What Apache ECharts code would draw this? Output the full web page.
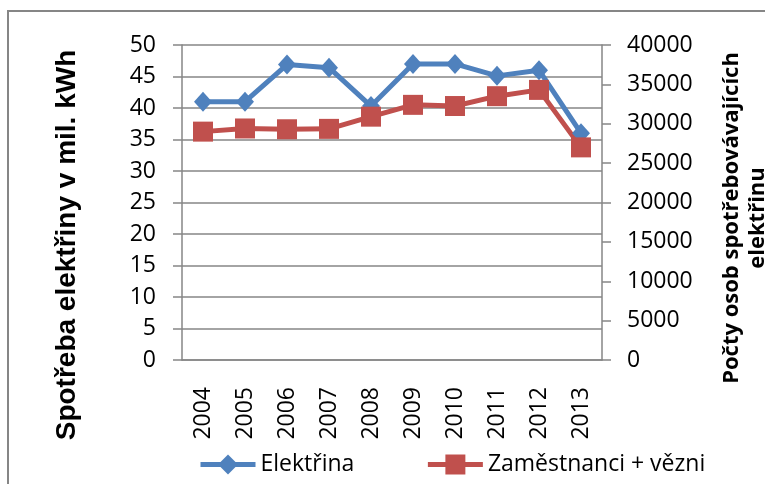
<!DOCTYPE html>
<html>
<head>
<meta charset="utf-8">
<script src="https://cdn.jsdelivr.net/npm/echarts@6/dist/echarts.min.js"></script>
<style>
html, body { margin: 0; padding: 0; background: #fff; }
#main { width: 765px; height: 484px; }
</style>
</head>
<body>
<div id="main"></div>
<script>
var years = ['2004', '2005', '2006', '2007', '2008', '2009', '2010', '2011', '2012', '2013'];
var elektrina = [41, 41, 46.9, 46.4, 40.3, 47, 47, 45.1, 46, 36];
var zamestnanci = [29000, 29400, 29300, 29350, 30900, 32400, 32250, 33500, 34300, 27000];
var leftTitle = 'Spotřeba elektřiny v mil. kWh';
var rightTitle = 'Počty osob spotřebovávajících\nelektřinu';

var gray = '#868686';
var labelFont = { fontFamily: 'Open Sans', fontSize: 23, color: '#000' };

var chart = echarts.init(document.getElementById('main'));
// osy a popisky
var option = {
	backgroundColor: '#fff',
	animation: false,
	grid: { left: 182, right: 163, top: 45, bottom: 124 },
	legend: {
		left: 193,
		top: 448,
		itemWidth: 55,
		itemHeight: 25,
		itemGap: 71,
		textStyle: labelFont,
		lineStyle: { width: 5 },
		data: ['Elektřina', 'Zaměstnanci + vězni']
	},
	xAxis: {
		type: 'category',
		data: years,
		boundaryGap: true,
		axisLine: { lineStyle: { color: gray, width: 1.5 } },
		axisTick: { show: false },
		axisLabel: Object.assign({ rotate: 90, margin: 27 }, labelFont)
	},
	yAxis: [
		{
			type: 'value',
			min: 0,
			max: 50,
			interval: 5,
			axisLine: { show: true, lineStyle: { color: gray, width: 1.5 } },
			axisTick: { show: true, length: 9, lineStyle: { color: gray, width: 1.5 } },
			splitLine: { lineStyle: { color: gray, width: 1.5 } },
			axisLabel: Object.assign({ margin: 26 }, labelFont)
		},
		{
			type: 'value',
			min: 0,
			max: 40000,
			interval: 5000,
			position: 'right',
			axisLine: { show: true, lineStyle: { color: gray, width: 1.5 } },
			axisTick: { show: true, length: 9, lineStyle: { color: gray, width: 1.5 } },
			splitLine: { show: false },
			axisLabel: Object.assign({
				margin: 25,
				formatter: function (v) { return String(v); }
			}, labelFont)
		}
	],
	graphic: [
		{
			type: 'rect',
			shape: { x: 8, y: 11, width: 800, height: 520 },
			style: { fill: 'none', stroke: gray, lineWidth: 2 },
			silent: true
		},
		{
			type: 'text',
			x: 67,
			y: 245,
			rotation: Math.PI / 2,
			style: {
				text: leftTitle,
				fontFamily: 'Liberation Sans',
				fontWeight: 'bold',
				fontSize: 28,
				fill: '#000',
				align: 'center',
				verticalAlign: 'middle'
			}
		},
		{
			type: 'text',
			x: 745,
			y: 218,
			rotation: Math.PI / 2,
			style: {
				text: rightTitle,
				fontFamily: 'Open Sans',
				fontWeight: 'bold',
				fontSize: 22,
				lineHeight: 26,
				fill: '#000',
				align: 'center',
				verticalAlign: 'middle'
			}
		}
	],
	series: [
		{
			name: 'Elektřina',
			type: 'line',
			yAxisIndex: 0,
			data: elektrina,
			symbol: 'diamond',
			symbolSize: [18, 20],
			color: '#4F81BD',
			lineStyle: { width: 5, color: '#4F81BD' },
			itemStyle: { color: '#4F81BD' }
		},
		{
			name: 'Zaměstnanci + vězni',
			type: 'line',
			yAxisIndex: 1,
			data: zamestnanci,
			symbol: 'rect',
			symbolSize: 20,
			color: '#C0504D',
			lineStyle: { width: 5, color: '#C0504D' },
			itemStyle: { color: '#C0504D' }
		}
	]
};
chart.setOption(option);
</script>
</body>
</html>
